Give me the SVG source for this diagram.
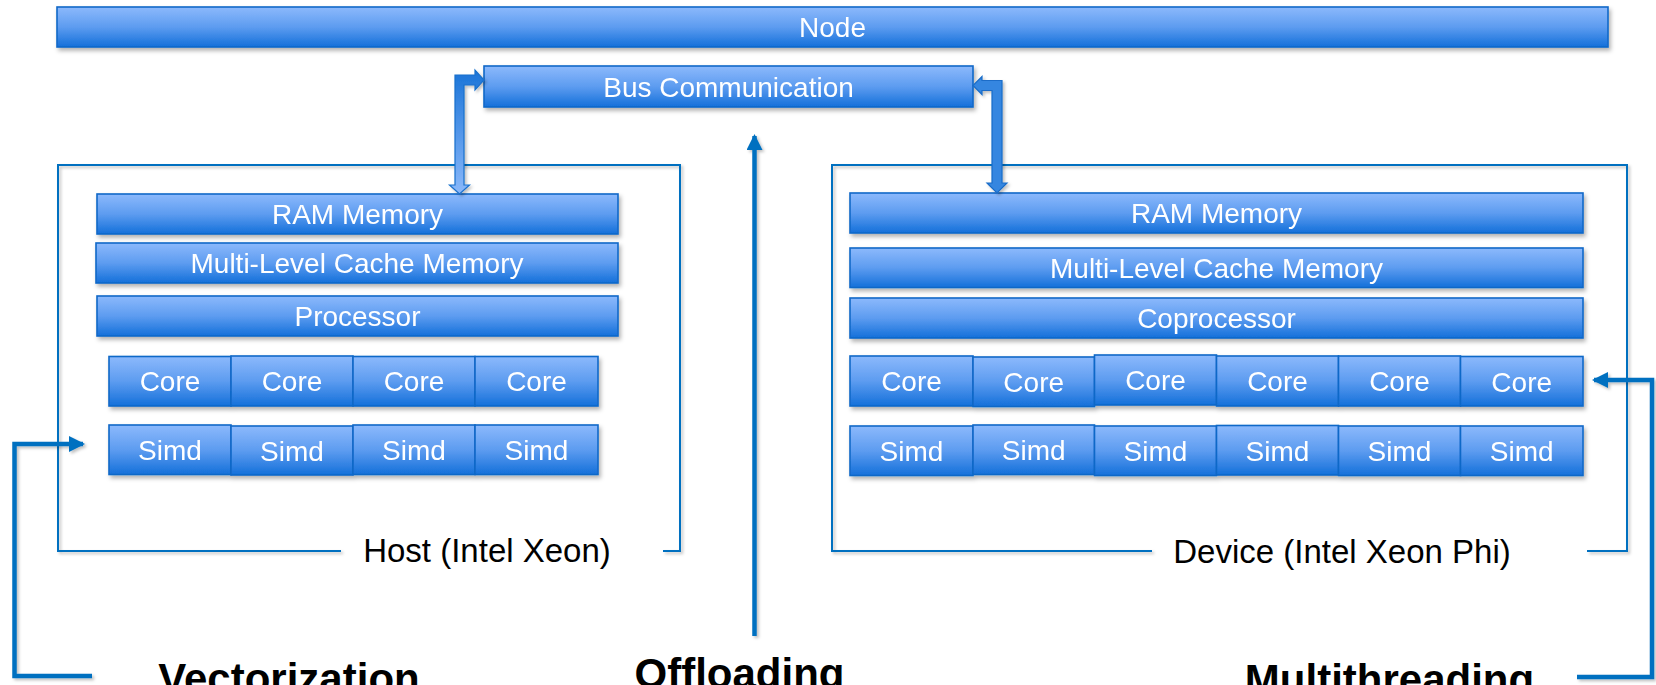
<svg xmlns="http://www.w3.org/2000/svg" width="1656" height="685" viewBox="0 0 1656 685">
<defs>
<linearGradient id="bar" x1="0" y1="0" x2="0" y2="1">
<stop offset="0" stop-color="#8cb9fc"/>
<stop offset="0.5" stop-color="#5d9cf0"/>
<stop offset="1" stop-color="#1470da"/>
</linearGradient>
<linearGradient id="arrL" x1="0" y1="0" x2="0" y2="1">
<stop offset="0" stop-color="#1a74d8"/>
<stop offset="1" stop-color="#8ab8fa"/>
</linearGradient>
<filter id="sh" x="-5%" y="-20%" width="110%" height="150%">
<feDropShadow dx="2" dy="3" stdDeviation="2" flood-color="#000" flood-opacity="0.3"/>
</filter>
<filter id="shl" filterUnits="userSpaceOnUse" x="0" y="0" width="1656" height="685">
<feDropShadow dx="2" dy="2" stdDeviation="1.5" flood-color="#000" flood-opacity="0.25"/>
</filter>
<marker id="ah" markerUnits="userSpaceOnUse" markerWidth="16" markerHeight="16" refX="14" refY="8" orient="auto">
<path d="M0,0 L16,8 L0,16 Z" fill="#0070c0"/>
</marker>
</defs>
<style>
.b{fill:url(#bar);stroke:#1168c8;stroke-width:1.6}
.t{font-family:"Liberation Sans",Arial,sans-serif;font-size:28px;fill:#ffffff;text-anchor:middle}
.lab{font-family:"Liberation Sans",Arial,sans-serif;font-size:33px;fill:#000000;text-anchor:middle}
.big{font-family:"Liberation Sans",Arial,sans-serif;font-size:42px;font-weight:bold;fill:#000000;text-anchor:middle}
.frame{fill:none;stroke:#0070c0;stroke-width:2}
.ln{fill:none;stroke:#0070c0;stroke-width:4.5}
</style>

<g id="node" filter="url(#sh)">
<rect class="b" x="57" y="7" width="1551" height="40"/>
<text class="t" x="832.5" y="37">Node</text>
</g>

<g id="bus" filter="url(#sh)">
<rect class="b" x="484" y="66" width="489" height="41"/>
<text class="t" x="728.5" y="96.5">Bus Communication</text>
</g>

<g id="host">
<path class="frame" filter="url(#shl)" d="M341,551 H58 V165 H680 V551 H663"/>
<text class="lab" x="487" y="562">Host (Intel Xeon)</text>
<g filter="url(#sh)">
<rect class="b" x="97" y="194" width="521" height="40"/>
<text class="t" x="357.5" y="224">RAM Memory</text>
<rect class="b" x="96" y="243" width="522" height="40"/>
<text class="t" x="357" y="273">Multi-Level Cache Memory</text>
<rect class="b" x="97" y="296" width="521" height="40"/>
<text class="t" x="357.5" y="326">Processor</text>
</g>
<g id="host-cores" filter="url(#sh)">
<rect class="b" x="109" y="356.5" width="122" height="49.5"/>
<text class="t" x="170" y="391">Core</text>
<rect class="b" x="231" y="356" width="122" height="50"/>
<text class="t" x="292" y="391">Core</text>
<rect class="b" x="353" y="356.5" width="122" height="49.5"/>
<text class="t" x="414" y="391">Core</text>
<rect class="b" x="475" y="356.5" width="123" height="49.5"/>
<text class="t" x="536.5" y="391">Core</text>
</g>
<g id="host-simd" filter="url(#sh)">
<rect class="b" x="109" y="425" width="122" height="49.5"/>
<text class="t" x="170" y="460">Simd</text>
<rect class="b" x="231" y="426" width="122" height="49"/>
<text class="t" x="292" y="461">Simd</text>
<rect class="b" x="353" y="425" width="122" height="49.5"/>
<text class="t" x="414" y="460">Simd</text>
<rect class="b" x="475" y="425" width="123" height="49.5"/>
<text class="t" x="536.5" y="460">Simd</text>
</g>
</g>

<g id="device">
<path class="frame" filter="url(#shl)" d="M1152,551 H832 V165 H1627 V551 H1587"/>
<text class="lab" x="1342" y="563">Device (Intel Xeon Phi)</text>
<g filter="url(#sh)">
<rect class="b" x="850" y="193" width="733" height="40"/>
<text class="t" x="1216.5" y="223">RAM Memory</text>
<rect class="b" x="850" y="248" width="733" height="39.5"/>
<text class="t" x="1216.5" y="277.5">Multi-Level Cache Memory</text>
<rect class="b" x="850" y="298" width="733" height="40"/>
<text class="t" x="1216.5" y="328">Coprocessor</text>
</g>
<g id="device-cores" filter="url(#sh)">
<rect class="b" x="850" y="356" width="123" height="50"/>
<text class="t" x="911.5" y="391">Core</text>
<rect class="b" x="973" y="357" width="121.5" height="49.5"/>
<text class="t" x="1033.7" y="392">Core</text>
<rect class="b" x="1094.5" y="355" width="122" height="50"/>
<text class="t" x="1155.5" y="390">Core</text>
<rect class="b" x="1216.5" y="356" width="122" height="50"/>
<text class="t" x="1277.5" y="390.5">Core</text>
<rect class="b" x="1338.5" y="356" width="122" height="50"/>
<text class="t" x="1399.5" y="390.5">Core</text>
<rect class="b" x="1460.5" y="356.5" width="122.5" height="49.5"/>
<text class="t" x="1521.7" y="391.5">Core</text>
</g>
<g id="device-simd" filter="url(#sh)">
<rect class="b" x="850" y="426" width="123" height="49.5"/>
<text class="t" x="911.5" y="461">Simd</text>
<rect class="b" x="973" y="425" width="121.5" height="49.5"/>
<text class="t" x="1033.7" y="460">Simd</text>
<rect class="b" x="1094.5" y="426" width="122" height="49.5"/>
<text class="t" x="1155.5" y="461">Simd</text>
<rect class="b" x="1216.5" y="425.5" width="122" height="49.5"/>
<text class="t" x="1277.5" y="460.5">Simd</text>
<rect class="b" x="1338.5" y="426" width="122" height="49.5"/>
<text class="t" x="1399.5" y="461">Simd</text>
<rect class="b" x="1460.5" y="426" width="122.5" height="49.5"/>
<text class="t" x="1521.7" y="461">Simd</text>
</g>
</g>

<g id="connectors">
<path filter="url(#shl)" fill="url(#arrL)" stroke="#1a70cc" stroke-width="1.2" d="M455,75 H475 V70 L484,80 L475,90 V85 H464 V185 H469.5 L459.5,194 L449.5,185 H455 Z"/>
<path filter="url(#shl)" fill="#3686e0" stroke="#1a6cc8" stroke-width="1.2" d="M1002,80.5 V183 H1007 L997,193 L987,183 H992 V90.5 H982 V94.5 L973,85.5 L982,76.5 V80.5 Z"/>
<path class="ln" filter="url(#shl)" d="M754.5,636 V136" marker-end="url(#ah)"/>
<path class="ln" filter="url(#shl)" d="M92,676 H14.5 V444 H83" marker-end="url(#ah)"/>
<path class="ln" filter="url(#shl)" d="M1577,677 H1652 V380 H1594" marker-end="url(#ah)"/>
</g>

<g id="labels">
<text class="big" x="289" y="693">Vectorization</text>
<text class="big" x="739.5" y="688">Offloading</text>
<text class="big" x="1389.5" y="694">Multithreading</text>
</g>
</svg>
